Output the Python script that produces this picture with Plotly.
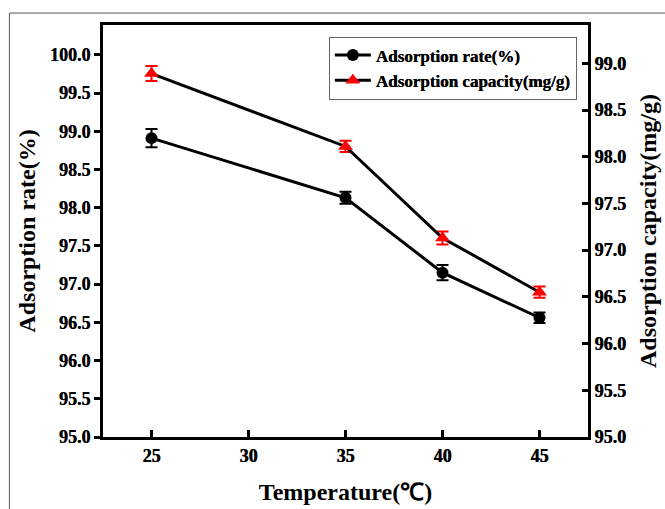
import plotly.graph_objects as go

temperature = [25, 35, 40, 45]
adsorption_rate = [98.91, 98.13, 97.15, 96.56]
rate_err = [0.12, 0.08, 0.10, 0.07]
adsorption_capacity = [98.89, 98.11, 97.13, 96.55]
capacity_err = [0.08, 0.06, 0.07, 0.06]

x_ticks = [25, 30, 35, 40, 45]
left_ticks = [95.0, 95.5, 96.0, 96.5, 97.0, 97.5, 98.0, 98.5, 99.0, 99.5, 100.0]
right_ticks = [95.0, 95.5, 96.0, 96.5, 97.0, 97.5, 98.0, 98.5, 99.0]

FONT = "Liberation Serif"

fig = go.Figure()
fig.add_trace(go.Scatter(
    x=temperature, y=adsorption_rate, name="Adsorption rate(%)",
    mode="lines+markers",
    line=dict(color="black", width=3),
    marker=dict(symbol="circle", size=12, color="black"),
    error_y=dict(type="data", array=rate_err, visible=True, color="black", thickness=2, width=6),
    yaxis="y",
))
fig.add_trace(go.Scatter(
    x=temperature, y=adsorption_capacity, name="Adsorption capacity(mg/g)",
    mode="lines+markers",
    line=dict(color="black", width=3),
    marker=dict(symbol="triangle-up", size=13, color="#ff0000"),
    error_y=dict(type="data", array=capacity_err, visible=True, color="#ff0000", thickness=2, width=6),
    yaxis="y2",
))

axis_font = dict(family=FONT, size=18, color="black", weight=700,
                 shadow="0.4px 0 0 black")
title_font = dict(family=FONT, size=24, color="black", weight="bold")

fig.update_layout(
    width=665, height=509,
    margin=dict(l=103, r=77, t=25, b=72),
    paper_bgcolor="white", plot_bgcolor="white",
    font=dict(family=FONT, color="black"),
    showlegend=True,
    legend=dict(
        x=0.977, y=0.972, xanchor="right", yanchor="top",
        bordercolor="#666666", borderwidth=1, bgcolor="white",
        font=dict(family=FONT, size=17, color="black", weight="bold",
                  shadow="0.3px 0 0 black"),
        tracegroupgap=0, itemwidth=36,
    ),
    xaxis=dict(
        range=[22.5, 47.5], tickvals=x_ticks,
        ticktext=["<b>%d</b>" % v for v in x_ticks],
        showline=True, linecolor="black", linewidth=3, mirror=True,
        ticks="inside", ticklen=7, tickwidth=3, tickcolor="black",
        showgrid=False, zeroline=False, automargin=False,
        tickfont=axis_font,
        title=dict(text="Temperature(℃)", font=title_font, standoff=19),
    ),
    yaxis=dict(
        range=[95.0, 100.39], tickvals=left_ticks,
        ticktext=["<b>%.1f</b>" % v for v in left_ticks],
        showline=True, linecolor="black", linewidth=3,
        ticks="outside", ticklen=6, tickwidth=3, tickcolor="black",
        showgrid=False, zeroline=False, automargin=False,
        tickfont=axis_font,
        title=dict(text="Adsorption rate(%)", font=title_font, standoff=8),
    ),
    yaxis2=dict(
        range=[95.0, 99.41], tickvals=right_ticks,
        ticktext=["<b>%.1f</b>" % v for v in right_ticks],
        overlaying="y", side="right",
        showline=True, linecolor="black", linewidth=3,
        ticks="inside", ticklen=6, tickwidth=3, tickcolor="black",
        showgrid=False, zeroline=False, automargin=False,
        tickfont=axis_font,
        title=dict(text="Adsorption capacity(mg/g)", font=title_font, standoff=15),
    ),
)

# outer frame of the image (top and left edges visible)
fig.add_shape(type="rect", xref="paper", yref="paper",
              x0=-0.193, x1=1.2, y0=-0.3, y1=1.029,
              line=dict(color="#555555", width=1), layer="below")

fig.write_html("out.html")
